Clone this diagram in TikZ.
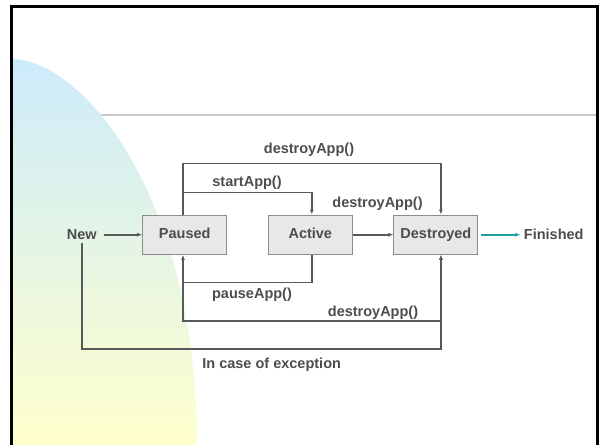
\documentclass[tikz,border=0pt]{standalone}
\usepackage{fontspec}
\setmainfont{Liberation Sans}
\usepackage{tikz}
\usetikzlibrary{positioning, arrows.meta}
\definecolor{labelgray}{HTML}{4D4D4D}
\definecolor{linegray}{HTML}{595959}
\definecolor{rulegray}{HTML}{C8C8C8}
\definecolor{boxfill}{HTML}{E8E8E8}
\definecolor{boxline}{HTML}{8C8C8C}
\definecolor{midpteal}{HTML}{1FA0A0}
\definecolor{skyblue}{HTML}{CCEBFB}
\definecolor{paleyellow}{HTML}{FFFFCC}
\tikzstyle{statebox} = [draw=boxline, fill=boxfill, line width=1pt, minimum width=84pt, minimum height=39.3pt, inner sep=0pt, text height=10.5pt, text depth=3pt, text=labelgray, font=\bfseries\fontsize{14.5}{17}\selectfont]
\tikzstyle{lbl} = [text=labelgray, font=\bfseries\fontsize{14.5}{17}\selectfont]
\tikzstyle{conn} = [linegray, line width=1.6pt, -{Latex[length=5pt,width=4pt]}]
\tikzstyle{tealarrow} = [midpteal, line width=1.6pt, -{Latex[length=5pt,width=4pt]}]

\begin{document}
\begin{tikzpicture}[x=1pt, y=-1pt]
  \useasboundingbox (0,0) rectangle (602,445);
  % slide background
  \draw[rulegray, line width=1.2pt] (100,115) -- (597,115);
  \shade[top color=skyblue, bottom color=paleyellow] (11.3,59) .. controls (82,59) and (197,195) .. (197,445) -- (11.3,445) -- cycle;
  \draw[black, line width=2.6pt] (11.3,445) -- (11.3,6.2) -- (597.7,6.2) -- (597.7,445);

  % states
  \node[statebox] (paused) at (184.7,234.7) {Paused};
  \node[statebox, right=40.6pt of paused] (active) {Active};
  \node[statebox, right=40.6pt of active] (destroyed) {Destroyed};
  \node[lbl, left=42pt of paused] (new) {New};
  \node[lbl, right=42pt of destroyed] (finished) {Finished};

  % transition labels
  \node[lbl] (lbltop) at (309,150) {destroyApp()};
  \node[lbl] (lblstart) at (247,182.7) {startApp()};
  \node[lbl] (lblmid) at (377.5,203.3) {destroyApp()};
  \node[lbl] (lblpause) at (252,295) {pauseApp()};
  \node[lbl] (lblbot) at (373,312.3) {destroyApp()};
  \node[lbl] (lblexc) at (271.7,365) {In case of exception};

  \coordinate (startbend) at (183,192.3);
  \coordinate (topbend) at (183,163.3);
  \coordinate (pausebend) at (183,282.3);
  \coordinate (botbend) at (183,321);
  \coordinate (excbend) at (81,349);

  % transitions
  \draw[conn] ([xshift=3.5pt]new.east) -- (paused.west);
  \draw[conn] (paused.north -| startbend) -- (startbend) -| ([xshift=1.5pt]active.north);
  \draw[conn] (startbend) -- (topbend) -| ([xshift=5pt]destroyed.north);
  \draw[conn] ([xshift=1.5pt]active.south) |- (pausebend) -- (pausebend |- paused.south);
  \draw[conn] (pausebend) -- (botbend) -| ([xshift=5pt]destroyed.south);
  \draw[conn] (active) -- (destroyed);
  \draw[conn] (new.south) -- (new.south |- excbend) -| ([xshift=5pt]destroyed.south);
  \draw[tealarrow] ([xshift=3pt]destroyed.east) -- (finished.west);
\end{tikzpicture}
\end{document}
